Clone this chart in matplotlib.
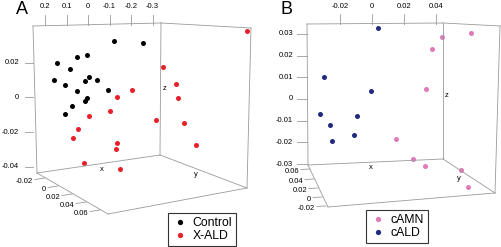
import matplotlib
matplotlib.use("Agg")
import matplotlib.pyplot as plt
import matplotlib.transforms as mtransforms
from matplotlib.lines import Line2D

plt.rcParams['font.family'] = ['Liberation Sans', 'DejaVu Sans']

W, H = 501, 247

# ---- panel A (x on top scale, z on left scale)
ctrl_x = [-0.121, -0.256, 0.005, 0.051, 0.144, 0.084, -0.005, 0.158, -0.042,
          0.014, 0.107, 0.051, -0.093, 0.005, 0.014, 0.074, 0.107]
ctrl_z = [0.0326, 0.0314, 0.0245, 0.0233, 0.0199, 0.0164, 0.0118, 0.0101, 0.0101,
          0.0095, 0.0072, 0.0037, 0.0043, -0.0003, -0.0020, -0.0049, -0.0095]
xald_x = [-0.740, -0.349, -0.409, -0.205, -0.419, -0.135, -0.102, -0.005, -0.316,
          -0.447, 0.047, 0.070, -0.135, -0.130, -0.502, 0.019, -0.149]
xald_z = [0.0383, 0.0176, 0.0078, 0.0043, -0.0003, 0.0003, -0.0078, -0.0107, -0.0130,
          -0.0147, -0.0182, -0.0233, -0.0262, -0.0297, -0.0274, -0.0378, -0.0412]
a_xticks = [0.2, 0.1, 0, -0.1, -0.2, -0.3]
a_zticks = [0.02, 0, -0.02, -0.04]
a_yticks = [-0.02, 0, 0.02, 0.04, 0.06]

# ---- panel B
camn_x = [0.0619, 0.0438, 0.0375, 0.0338, 0.0150, 0.0256, 0.0331, 0.0556, 0.0600]
camn_z = [0.0305, 0.0286, 0.0231, 0.0046, -0.0185, -0.0277, -0.0309, -0.0328, -0.0406]
cald_x = [0.0038, -0.0300, -0.0006, -0.0325, -0.0094, -0.0265, -0.0113, -0.0250]
cald_z = [0.0328, 0.0102, 0.0037, -0.0069, -0.0078, -0.0120, -0.0166, -0.0194]
b_xticks = [-0.02, 0, 0.02, 0.04]
b_zticks = [0.03, 0.02, 0.01, 0, -0.01, -0.02, -0.03]
b_yticks = [0.06, 0.04, 0.02, 0, -0.02]

fig = plt.figure(figsize=(W / 100, H / 100), dpi=100)
# pixel coordinates (origin top-left) for the drawn box and the decorations
pix = mtransforms.Affine2D().scale(1 / W, -1 / H).translate(0, 1) + fig.transFigure

box_c = '#9a9a9a'
fs = 5.5


def fmt(v):
    return '0' if v == 0 else ('%g' % v)


def panel(left, right, x0, kx, z0, kz, box, ytick_pts, ytick_dir, xt, zt, yt,
          zt_x, zt_lab_x, top_y, labels_xyz):
    ax = fig.add_axes([left / W, 0, (right - left) / W, 1])
    ax.set_xlim((left - x0) / kx, (right - x0) / kx)
    ax.set_ylim((z0 - H) / kz, z0 / kz)
    ax.axis('off')
    for a, b in box:
        ax.plot([a[0], b[0]], [a[1], b[1]], color=box_c, lw=0.6, transform=pix, clip_on=False)
    tx = mtransforms.blended_transform_factory(ax.transData, pix)
    for v in xt:
        ax.plot([v, v], [top_y[0], top_y[1]], color=box_c, lw=0.6, transform=tx, clip_on=False)
        ax.text(v, 7, fmt(v), transform=tx, ha='center', va='center', fontsize=fs)
    tz = mtransforms.blended_transform_factory(pix, ax.transData)
    for v in zt:
        ax.plot([zt_x[0], zt_x[1]], [v, v], color=box_c, lw=0.6, transform=tz, clip_on=False)
        ax.text(zt_lab_x, v, fmt(v), transform=tz, ha='right', va='center', fontsize=fs)
    for (px, py), v in zip(ytick_pts, yt):
        ax.plot([px, px + ytick_dir[0]], [py, py + ytick_dir[1]], color=box_c, lw=0.6,
                transform=pix, clip_on=False)
        ax.text(px + ytick_dir[0] - 2, py + ytick_dir[1] + 2, fmt(v), transform=pix,
                ha='right', va='center', fontsize=fs)
    for s, (px, py) in zip('xyz', labels_xyz):
        ax.text(px, py, s, transform=pix, ha='center', va='center', fontsize=fs)
    return ax


def legend(ax, colors, names, corner):
    hs = [Line2D([], [], ls='', marker='o', ms=3.8, mec='none', color=c) for c in colors]
    leg = ax.legend(hs, names, loc='upper left', bbox_to_anchor=corner,
                    bbox_transform=pix, fontsize=8.8, fancybox=False, framealpha=1,
                    handlelength=1.3, handletextpad=0.4, borderpad=0.32,
                    labelspacing=0.08, borderaxespad=0)
    leg.get_frame().set_edgecolor('#333333')
    leg.get_frame().set_linewidth(0.8)
    return leg


# panel A
boxA = [((33, 26), (161, 23)), ((161, 23), (251, 28)), ((33, 26), (37, 173)),
        ((161, 23), (160, 155)), ((251, 28), (247, 188)), ((37, 173), (160, 155)),
        ((160, 155), (247, 188)), ((37, 173), (108, 214)), ((108, 214), (247, 188))]
yptsA = [(45, 178), (58, 186), (72, 194), (86, 202), (100, 210)]
axA = panel(0, 250, 88, -215, 97.5, 1735, boxA, yptsA, (-10, 1.5),
            a_xticks, a_zticks, a_yticks, (25, 33), 19, (15, 25),
            [(102, 169), (196, 174), (165, 88)])
axA.scatter(ctrl_x, ctrl_z, s=13, color='black', lw=0, clip_on=False)
axA.scatter(xald_x, xald_z, s=13, color='#e8202a', lw=0, clip_on=False)
legend(axA, ['black', '#e8202a'], ['Control', 'X-ALD'], (168, 213))
fig.text(22 / W, 1 - 9 / H, 'A', fontsize=13, ha='center', va='center')

# panel B
boxB = [((307, 24), (443, 23)), ((443, 23), (500, 26)), ((307, 24), (308, 165)),
        ((443, 23), (443, 159)), ((500, 26), (495, 193)), ((308, 165), (443, 159)),
        ((443, 159), (495, 193)), ((308, 165), (328, 207)), ((328, 207), (495, 193))]
yptsB = [(310, 169), (314, 179), (318, 188), (322, 197), (326, 206)]
axB = panel(250, 501, 372, 1600, 99, 2167, boxB, yptsB, (-9, 0.5),
            b_xticks, b_zticks, b_yticks, (297, 307), 293, (14, 24),
            [(371, 167), (459, 178), (447, 95)])
axB.scatter(camn_x, camn_z, s=13, color='#e07ab8', lw=0, clip_on=False)
axB.scatter(cald_x, cald_z, s=13, color='#1f2a80', lw=0, clip_on=False)
legend(axB, ['#e07ab8', '#1f2a80'], ['cAMN', 'cALD'], (366, 210))
fig.text(287 / W, 1 - 9 / H, 'B', fontsize=13, ha='center', va='center')

fig.savefig('out.png', dpi=100)
